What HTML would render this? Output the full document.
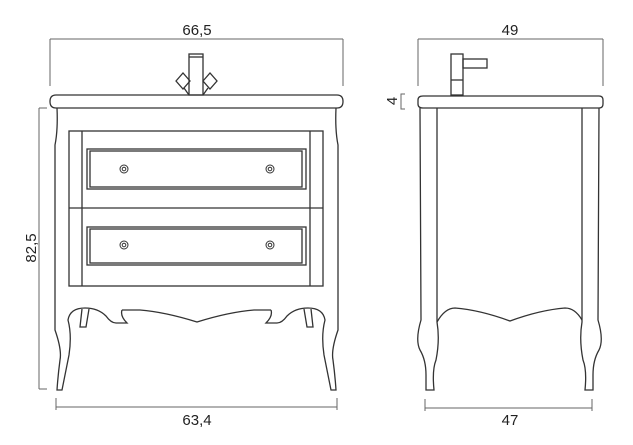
<!DOCTYPE html>
<html><head><style>
html,body{margin:0;padding:0;background:#fff;width:633px;height:445px;overflow:hidden}
svg{display:block}
text{font-family:"Liberation Sans",sans-serif;font-size:15px;fill:#222;stroke:none;font-weight:400}
</style></head><body>
<svg width="633" height="445" viewBox="0 0 633 445" fill="none" stroke="#333" stroke-width="1.3">
<!-- FRONT VIEW dims -->
<g stroke="#666" stroke-width="1">
<path d="M50 39 H343 M50 39 V86 M343 39 V86"/>
<path d="M39 108 V389 M39 108 H47 M39 389 H47"/>
<path d="M56 407 H337 M56 398 V410 M337 398 V410"/>
</g>
<text x="197" y="35" text-anchor="middle">66,5</text>
<text x="197" y="425" text-anchor="middle">63,4</text>
<text transform="translate(36,248) rotate(-90)" text-anchor="middle">82,5</text>
<!-- tap -->
<rect x="189" y="54" width="14" height="41"/>
<path d="M189 57 H203"/>
<path d="M176 81 L183 73 L190 81 L183 89 Z"/>
<path d="M203 81 L210 73 L217 81 L210 89 Z"/>
<path d="M184 88 L189 95 M208 88 L203 95"/>
<!-- slab -->
<path d="M56 95 H337 Q343 95 343 101.5 Q343 108 337 108 H56 Q50 108 50 101.5 Q50 95 56 95 Z"/>
<!-- body sides and legs -->
<path d="M57 108 Q58 130 55 145 V330 Q62 350 60 360 Q58 375 57 390 H62 Q66 370 69 355 Q72 335 68 320 Q70 308 85 308 Q98 308 106 316 Q111 323 116 323 H127 Q120 316 122 310"/>
<path d="M336 108 Q335 130 338 145 V330 Q331 350 333 360 Q335 375 336 390 H331 Q327 370 324 355 Q321 335 325 320 Q323 308 308 308 Q295 308 287 316 Q282 323 277 323 H266 Q273 316 271 310"/>
<path d="M122 310 H140 Q165 312 197 322 Q229 312 254 310 H271"/>
<path d="M82 309 L80 327 H86 L89 309"/>
<path d="M311 309 L313 327 H307 L304 309"/>
<!-- frame -->
<rect x="69" y="131" width="254" height="155"/>
<path d="M82 131 V286 M310 131 V286 M69 208 H323"/>
<!-- drawers -->
<rect x="87" y="149" width="219" height="40"/>
<rect x="90" y="151" width="212" height="36"/>
<rect x="87" y="227" width="219" height="38"/>
<rect x="90" y="229" width="212" height="34"/>
<g stroke-width="1">
<circle cx="124" cy="169" r="4"/><circle cx="124" cy="169" r="1.8"/>
<circle cx="270" cy="169" r="4"/><circle cx="270" cy="169" r="1.8"/>
<circle cx="124" cy="245" r="4"/><circle cx="124" cy="245" r="1.8"/>
<circle cx="270" cy="245" r="4"/><circle cx="270" cy="245" r="1.8"/>
</g>
<!-- SIDE VIEW -->
<g stroke="#666" stroke-width="1">
<path d="M418 39 H603 M418 39 V86 M603 39 V86"/>
<path d="M405 94 H401 V109 H405"/>
<path d="M425 408 H592 M425 399 V411 M592 399 V411"/>
</g>
<text x="510" y="35" text-anchor="middle">49</text>
<text x="510" y="425" text-anchor="middle">47</text>
<text transform="translate(397,101) rotate(-90)" text-anchor="middle">4</text>
<rect x="451" y="54" width="12" height="41"/>
<rect x="463" y="59" width="24" height="9"/>
<path d="M451 80 H463"/>
<path d="M423 96 H599 Q603 96 603 100 V104 Q603 108 599 108 H423 Q418 108 418 104 V100 Q418 96 423 96 Z"/>
<path d="M420 108 L421 320 Q415 340 420 350 Q426 360 426 375 V390 H434 Q432 370 436 360 Q440 340 437 322 V108"/>
<path d="M599 108 L598 320 Q604 340 599 350 Q593 360 593 375 V390 H585 Q587 370 583 360 Q579 340 582 322 V108"/>
<path d="M437 322 Q445 308 455 308 Q480 310 510 321 Q540 310 565 308 Q575 308 582 320"/>
</svg>
</body></html>
